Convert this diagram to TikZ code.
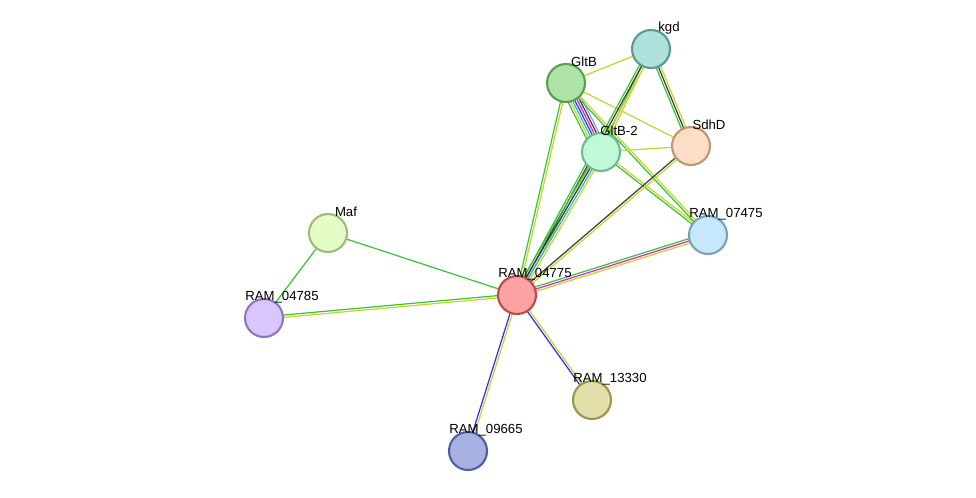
\documentclass[tikz,border=0pt]{standalone}
\usepackage{fontspec}
\setmainfont{Liberation Sans}
\usetikzlibrary{calc,backgrounds}

\definecolor{eg}{RGB}{60,195,60}
\definecolor{ey}{RGB}{195,215,40}
\definecolor{ek}{RGB}{60,60,60}
\definecolor{eb}{RGB}{50,50,220}
\definecolor{em}{RGB}{220,40,200}
\definecolor{ec}{RGB}{40,180,220}
\definecolor{el}{RGB}{150,150,240}
\definecolor{ckgd}{RGB}{120,205,195}
\definecolor{cgltb}{RGB}{120,210,110}
\definecolor{cgltbb}{RGB}{150,245,190}
\definecolor{csdhd}{RGB}{250,200,160}
\definecolor{cr07475}{RGB}{160,215,250}
\definecolor{cmaf}{RGB}{210,250,160}
\definecolor{cr04775}{RGB}{250,100,100}
\definecolor{cr04785}{RGB}{190,160,250}
\definecolor{cr13330}{RGB}{205,200,110}
\definecolor{cr09665}{RGB}{110,125,210}

\tikzset{
  prot/.style 2 args = {circle, minimum size=0.76cm, inner sep=0, line width=1.2pt,
    fill=#1!60!white, draw=#1!75!black,
    label={[shift={(18,-21)}, anchor=west, inner sep=0, font=\fontsize{7.5}{8}\selectfont]center:#2}},
  edge/.style = {line width=0.7pt}
}
% parallel lines between two nodes, one per colour
\newcommand{\bundle}[3]{%
  \foreach \c [count=\i] in {#3} {\xdef\nb{\i}}%
  \foreach \c [count=\i] in {#3} {%
    \pgfmathsetmacro{\off}{(\i-(\nb+1)/2)*1.3}%
    \draw[edge, \c] ($(#1.center)!\off pt!90:(#2.center)$) -- ($(#2.center)!\off pt!-90:(#1.center)$);
  }}

\begin{document}
\begin{tikzpicture}[x=0.02cm, y=-0.02cm]
\useasboundingbox (0,0) rectangle (976,497);
\node[prot={ckgd}{kgd}] (kgd) at (651,49) {};
\node[prot={cgltb}{GltB}] (gltb) at (566,83) {};
\node[prot={cgltbb}{GltB-2}] (gltb2) at (601,152) {};
\node[prot={csdhd}{SdhD}] (sdhd) at (691,146) {};
\node[prot={cr07475}{RAM\_07475}] (r07475) at (708,235) {};
\node[prot={cmaf}{Maf}] (maf) at (328,233) {};
\node[prot={cr04775}{RAM\_04775}] (r04775) at (517,295) {};
\node[prot={cr04785}{RAM\_04785}] (r04785) at (264,318) {};
\node[prot={cr13330}{RAM\_13330}] (r13330) at (592,400) {};
\node[prot={cr09665}{RAM\_09665}] (r09665) at (468,451) {};

\begin{scope}[on background layer]
\bundle{gltb}{kgd}{ey}
\bundle{gltb}{sdhd}{ey}
\bundle{gltb}{gltb2}{eg,ey,ec,eb,em,ek,el}
\bundle{gltb}{r07475}{eg,ey}
\bundle{gltb}{r04775}{eg,ey}
\bundle{kgd}{gltb2}{eg,ey}
\bundle{kgd}{sdhd}{eg,ek,ey}
\bundle{kgd}{r04775}{eg,ek,ey}
\bundle{gltb2}{sdhd}{ey}
\bundle{gltb2}{r07475}{eg,ey}
\bundle{gltb2}{r04775}{eg,ek,ec,ey}
\bundle{sdhd}{r04775}{ek,ey}
\bundle{r07475}{r04775}{eg,em,ey}
\bundle{maf}{r04775}{eg}
\bundle{maf}{r04785}{eg}
\bundle{r04785}{r04775}{ey,eg}
\bundle{r04775}{r13330}{eb,ey}
\bundle{r04775}{r09665}{eb,ey}
\end{scope}
\end{tikzpicture}
\end{document}
